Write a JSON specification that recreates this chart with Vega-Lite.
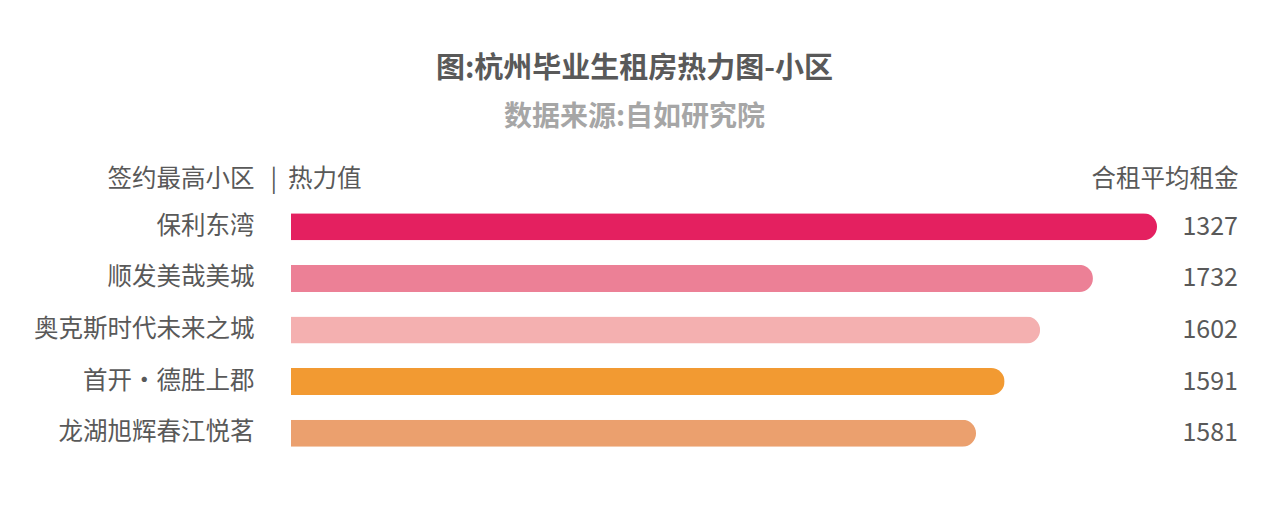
{
  "$schema": "https://vega.github.io/schema/vega-lite/v6.json",
  "width": 947,
  "height": 258,
  "autosize": {"type": "none"},
  "padding": {"left": 291, "top": 201, "right": 30, "bottom": 68},
  "background": "white",
  "title": {
    "text": "图:杭州毕业生租房热力图-小区",
    "subtitle": "数据来源:自如研究院",
    "anchor": "middle",
    "dx": -130,
    "offset": 34,
    "font": "Noto Sans CJK SC",
    "fontSize": 29,
    "fontWeight": "bold",
    "color": "#595959",
    "subtitleFont": "Noto Sans CJK SC",
    "subtitleFontSize": 28,
    "subtitleFontWeight": "bold",
    "subtitleColor": "#a6a6a6",
    "subtitlePadding": 20
  },
  "config": {"view": {"stroke": null}},
  "data": {
    "values": [
      {"name": "保利东湾", "heat": 100, "rent": 1327},
      {"name": "顺发美哉美城", "heat": 92.6, "rent": 1732},
      {"name": "奥克斯时代未来之城", "heat": 86.5, "rent": 1602},
      {"name": "首开·德胜上郡", "heat": 82.4, "rent": 1591},
      {"name": "龙湖旭辉春江悦茗", "heat": 79.1, "rent": 1581}
    ]
  },
  "resolve": {"axis": {"y": "independent"}},
  "layer": [
    {
      "mark": {"type": "bar", "cornerRadiusEnd": 13.5},
      "encoding": {
        "y": {
          "field": "name",
          "type": "nominal",
          "sort": null,
          "scale": {"paddingInner": 0.476, "paddingOuter": 0.238},
          "axis": {
            "orient": "left",
            "domain": false,
            "ticks": false,
            "labelPadding": 37,
            "labelLimit": 400,
            "labelFont": "Noto Sans CJK SC",
            "labelFontSize": 24.5,
            "labelColor": "#595959",
            "title": "签约最高小区",
            "titleAngle": 0,
            "titleAlign": "right",
            "titleBaseline": "middle",
            "titleX": -37,
            "titleY": -22,
            "titleFont": "Noto Sans CJK SC",
            "titleFontSize": 24.5,
            "titleFontWeight": "normal",
            "titleColor": "#595959"
          }
        },
        "x": {
          "field": "heat",
          "type": "quantitative",
          "scale": {"domain": [0, 109.35], "nice": false},
          "axis": {
            "orient": "top",
            "labels": false,
            "ticks": false,
            "domain": false,
            "grid": false,
            "title": "|\u00a0\u00a0热力值",
            "titleAnchor": "start",
            "titleAlign": "left",
            "titleBaseline": "middle",
            "titleX": -21,
            "titleY": -22,
            "titleFont": "Noto Sans CJK SC",
            "titleFontSize": 24.5,
            "titleFontWeight": "normal",
            "titleColor": "#595959"
          }
        },
        "color": {
          "field": "name",
          "type": "nominal",
          "scale": {
            "domain": ["保利东湾", "顺发美哉美城", "奥克斯时代未来之城", "首开·德胜上郡", "龙湖旭辉春江悦茗"],
            "range": ["#e42060", "#ec8096", "#f4b0b0", "#f29a32", "#eba06e"]
          },
          "legend": null
        }
      }
    },
    {
      "mark": {
        "type": "text",
        "align": "right",
        "baseline": "middle",
        "font": "Noto Sans CJK SC",
        "fontSize": 25,
        "color": "#595959"
      },
      "encoding": {
        "y": {
          "field": "name",
          "type": "nominal",
          "sort": null,
          "axis": {
            "orient": "right",
            "labels": false,
            "ticks": false,
            "domain": false,
            "title": "合租平均租金",
            "titleAngle": 0,
            "titleAlign": "right",
            "titleBaseline": "middle",
            "titleX": 0,
            "titleY": -22,
            "titleFont": "Noto Sans CJK SC",
            "titleFontSize": 24.5,
            "titleFontWeight": "normal",
            "titleColor": "#595959"
          }
        },
        "x": {"datum": 109.35},
        "text": {"field": "rent", "type": "quantitative", "format": "d"}
      }
    }
  ]
}
